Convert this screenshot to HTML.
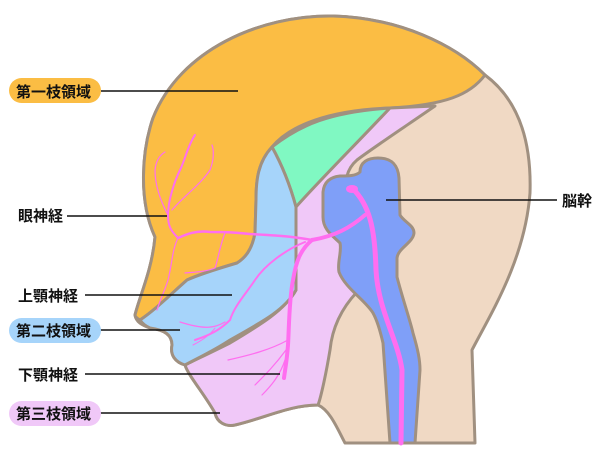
<!DOCTYPE html>
<html><head><meta charset="utf-8"><style>
body{margin:0;background:#fff;width:600px;height:460px;overflow:hidden}
svg{display:block}
text{font-family:"Liberation Sans","Noto Sans CJK JP",sans-serif;font-weight:bold;font-size:15px;fill:#111}
</style></head><body>
<svg width="600" height="460" viewBox="0 0 600 460">
<g stroke="#a09080" stroke-width="3" stroke-linejoin="round">
<path fill="#f0d9c4" d="M345,443 L475,443 L472,350 C490,315 525,260 530,193 C532,130 512,95 485,75 C455,45 400,18 333,16 C260,15 180,50 153,118 C142,150 138,200 155,237 C152,270 140,295 135,315 C136,322 142,325 150,328 C165,330 172,335 172,345 C170,355 175,362 185,365 C188,375 205,395 215,413 C217,422 225,427 235,425 C265,418 290,405 318,405 C330,410 338,430 345,443 Z"/>
<path fill="#fbbd44" d="M485,75 C470,95 445,105 390,108 C330,110 290,125 272,147 C258,162 256,180 256,200 L255,233 C252,250 245,258 237,263 C220,268 198,275 187,280 C170,295 155,310 140,320 C136,318 135,316 135,315 C140,295 152,270 155,237 C138,200 142,150 153,118 C180,50 260,15 333,16 C400,18 455,45 485,75 Z"/>
<path fill="#80f8c2" d="M272,147 C300,125 330,112 390,108 C360,140 320,180 296,207 C290,185 282,165 272,147 Z"/>
<path fill="#f0c8f8" d="M390,108 L435,106 C400,130 370,150 357,160 C350,166 348,172 347,176 L340,270 C345,280 352,288 357,292 C340,310 332,330 330,350 C325,380 320,400 318,405 C290,405 265,418 235,425 C225,427 217,422 215,413 C205,395 188,375 185,365 C195,360 210,353 230,343 C260,325 285,310 296,290 L296,207 C320,180 360,140 390,108 Z"/>
<path fill="#a6d4fa" d="M272,147 C282,165 290,185 296,207 L296,290 C285,310 262,322 230,340 C215,350 200,357 185,365 C175,362 170,355 172,345 C172,335 165,330 150,328 C145,326 142,323 140,320 C155,310 170,295 187,280 C198,275 220,268 237,263 C245,258 252,250 255,233 L256,200 C256,180 258,162 272,147 Z"/>
<path fill="#7f9ff8" d="M360,172 C360,162 368,158 378,158 C392,158 398,165 399,178 L400,215 C404,222 414,225 414,233 C413,243 398,248 397,258 L397,277 C403,300 410,320 413,333 C418,350 420,360 420,370 L415,443 L390,443 L383,343 C380,330 377,320 373,313 C365,300 345,288 339,272 C337,262 342,252 340,243 C333,236 323,230 323,217 L323,192 C324,182 330,177 340,176 C348,176 356,176 360,172 Z"/>
</g>
<g fill="none" stroke="#ff6ef0" stroke-linecap="round">
<path d="M352,188 C370,205 375,230 376,270 C378,310 398,340 402,370 L401,443" stroke-width="5"/>
<ellipse cx="352" cy="189" rx="6" ry="4" fill="#ff6ef0" stroke="none"/>
<path d="M365,215 C350,228 335,236 312,240" stroke-width="4"/>
<path d="M312,240 C290,236 270,235 250,234 C230,232 225,232 210,232 C195,230 185,235 178,238" stroke-width="2.5"/>
<path d="M312,240 C300,250 296,262 293,280 C289,300 289,330 288,345 C287,360 285,370 284,378" stroke-width="4"/>
<path d="M305,242 C285,250 265,265 255,280 C245,295 235,305 230,320 C220,330 210,335 195,340" stroke-width="2"/>
<path d="M178,238 C170,230 168,225 168,215 C168,200 175,180 180,170 C185,160 188,145 195,135" stroke-width="2"/>
<path d="M168,215 C160,200 155,185 155,170 C156,160 160,155 165,152" stroke-width="1.2"/>
<path d="M172,210 C185,195 200,185 210,170 C214,160 214,150 212,145" stroke-width="1.2"/>
<path d="M178,238 C172,250 172,265 168,280 C165,290 160,300 157,310" stroke-width="1.2"/>
<path d="M225,233 C220,245 218,260 215,268 C205,272 195,272 185,273" stroke-width="1.2"/>
<path d="M288,340 C270,350 250,355 228,360" stroke-width="1.2"/>
<path d="M286,350 C275,365 265,375 255,385" stroke-width="1.2"/>
<path d="M285,360 C280,375 272,385 262,395" stroke-width="1.2"/>
<path d="M225,322 C215,328 205,330 180,322" stroke-width="1.2"/>
<path d="M215,328 C210,335 203,340 193,345" stroke-width="1"/>
</g>
<g stroke="#111" stroke-width="1.5">
<line x1="101" y1="91" x2="238" y2="91"/>
<line x1="67" y1="216" x2="167" y2="216"/>
<line x1="85" y1="295" x2="232" y2="295"/>
<line x1="100" y1="330" x2="180" y2="330"/>
<line x1="85" y1="374" x2="280" y2="374"/>
<line x1="100" y1="413" x2="220" y2="413"/>
<line x1="386" y1="200" x2="557" y2="200"/>
</g>
<rect x="9" y="78" width="92" height="25" rx="12.5" fill="#fbbd44"/>
<rect x="9" y="318" width="92" height="25" rx="12.5" fill="#a6d4fa"/>
<rect x="9" y="401" width="92" height="25" rx="12.5" fill="#f0c8f8"/>
<text x="16" y="97">第一枝領域</text>
<text x="16" y="336">第二枝領域</text>
<text x="16" y="419">第三枝領域</text>
<text x="18" y="221">眼神経</text>
<text x="18" y="301">上顎神経</text>
<text x="18" y="380">下顎神経</text>
<text x="562" y="206">脳幹</text>
</svg>
</body></html>
